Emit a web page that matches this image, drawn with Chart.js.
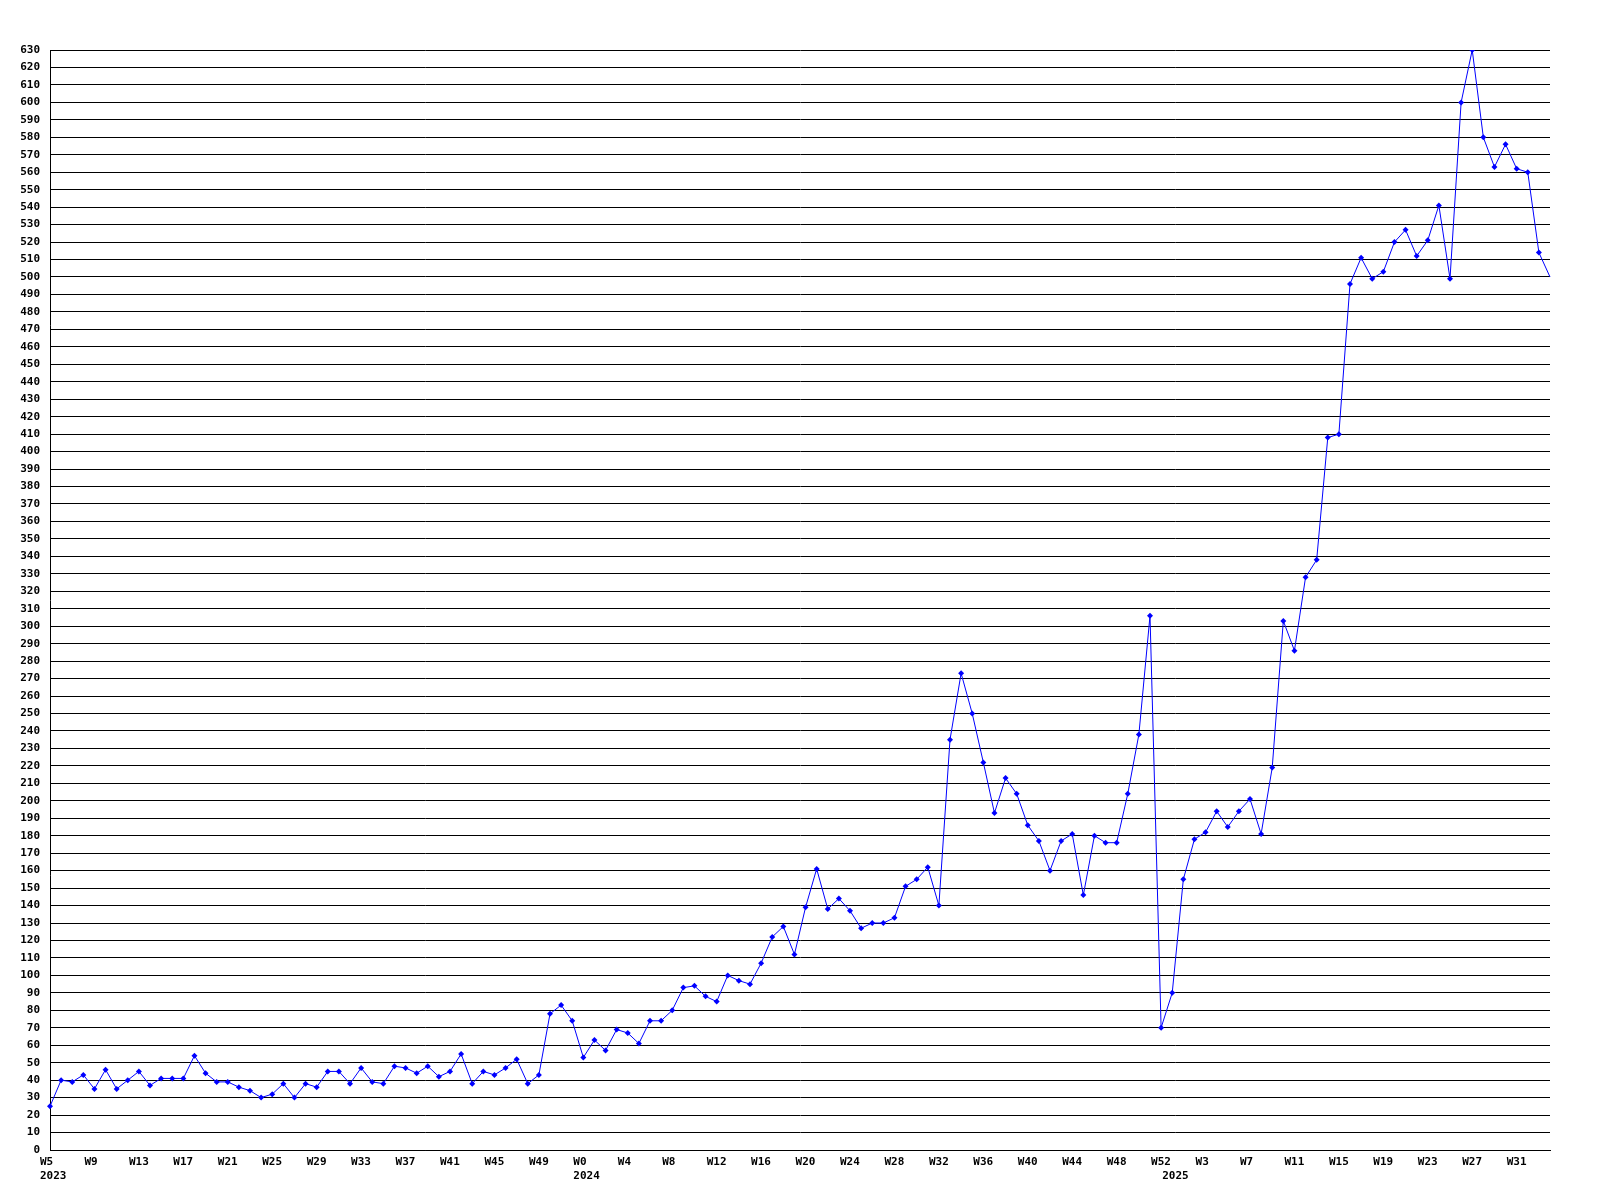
<!DOCTYPE html>
<html><head><meta charset="utf-8">
<script src="https://cdn.jsdelivr.net/npm/chart.js@4"></script>
<style>html,body{margin:0;padding:0;background:#fff}canvas{display:block}</style>
</head><body>
<canvas id="c" width="1600" height="1200"></canvas>
<script>
// categories
const years = ['2023', '2024', '2025'];
const weeks2023 = ['W5','W6','W7','W8','W9','W10','W11','W12','W13','W14','W15','W16','W17','W18','W19','W20','W21','W22','W23','W24','W25','W26','W27','W28','W29','W30','W31','W32','W33','W34','W35','W36','W37','W38','W39','W40','W41','W42','W43','W44','W45','W46','W47','W48','W49','W50','W51','W52'];
const weeks2024 = ['W0','W1','W2','W3','W4','W5','W6','W7','W8','W9','W10','W11','W12','W13','W14','W15','W16','W17','W18','W19','W20','W21','W22','W23','W24','W25','W26','W27','W28','W29','W30','W31','W32','W33','W34','W35','W36','W37','W38','W39','W40','W41','W42','W43','W44','W45','W46','W47','W48','W49','W50','W51','W52'];
const weeks2025 = ['W0','W1','W2','W3','W4','W5','W6','W7','W8','W9','W10','W11','W12','W13','W14','W15','W16','W17','W18','W19','W20','W21','W22','W23','W24','W25','W26','W27','W28','W29','W30','W31','W32','W33','W34'];

// series values
const values2023 = [25,40,39,43,35,46,35,40,45,37,41,41,41,54,44,39,39,36,34,30,32,38,30,38,36,45,45,38,47,39,38,48,47,44,48,42,45,55,38,45,43,47,52,38,43,78,83,74];
const values2024 = [53,63,57,69,67,61,74,74,80,93,94,88,85,100,97,95,107,122,128,112,139,161,138,144,137,127,130,130,133,151,155,162,140,235,273,250,222,193,213,204,186,177,160,177,181,146,180,176,176,204,238,306,70];
const values2025 = [90,155,178,182,194,185,194,201,181,219,303,286,328,338,408,410,496,511,499,503,520,527,512,521,541,499,600,630,580,563,576,562,560,514,500];

// y tick range
const yMin = 0, yMax = 630, yStep = 10;

const weekLists = [weeks2023, weeks2024, weeks2025];
const valueLists = [values2023, values2024, values2025];
const labels = [], data = [], yearOf = [];
weekLists.forEach((wl, yi) => { wl.forEach((w, k) => { labels.push(w); yearOf.push(k === 0 ? years[yi] : ''); }); });
valueLists.forEach(vl => vl.forEach(v => data.push(v)));

const FONT = {family: "'DejaVu Sans Mono', monospace", size: 11, weight: 'bold'};
const radii = data.map((v, i) => i === data.length - 1 ? 0 : 3);

new Chart(document.getElementById('c'), {
  type: 'line',
  data: {
    labels: labels,
    datasets: [{
      data: data,
      borderColor: '#0000ff',
      backgroundColor: '#0000ff',
      borderWidth: 1,
      pointStyle: 'rectRot',
      pointRadius: radii,
      pointBorderWidth: 0,
      pointBackgroundColor: '#0000ff',
      tension: 0,
      fill: false
    }]
  },
  options: {
    responsive: false,
    animation: false,
    devicePixelRatio: 1,
    layout: {padding: {top: 50, right: 50, left: 0, bottom: 0}},
    plugins: {legend: {display: false}, tooltip: {enabled: false}},
    scales: {
      x: {
        type: 'category',
        offset: false,
        grid: {display: false, drawTicks: false},
        border: {display: true, color: '#000', width: 1},
        ticks: {
          autoSkip: false, maxRotation: 0, minRotation: 0,
          align: 'start', labelOffset: -10, padding: 6,
          color: '#000', font: FONT,
          callback: function(v, i) {
            const w = (i % 4 === 0) ? labels[i] : '';
            if (yearOf[i]) return [w, yearOf[i]];
            return w;
          }
        },
        afterFit: s => { s.height = 50; }
      },
      y: {
        min: yMin, max: yMax,
        grid: {color: '#000', lineWidth: 1, drawTicks: false},
        border: {display: true, color: '#000', width: 1},
        ticks: {stepSize: yStep, autoSkip: false, padding: 10, color: '#000', font: FONT},
        afterFit: s => { s.width = 50; }
      }
    }
  }
});
</script>
</body></html>
